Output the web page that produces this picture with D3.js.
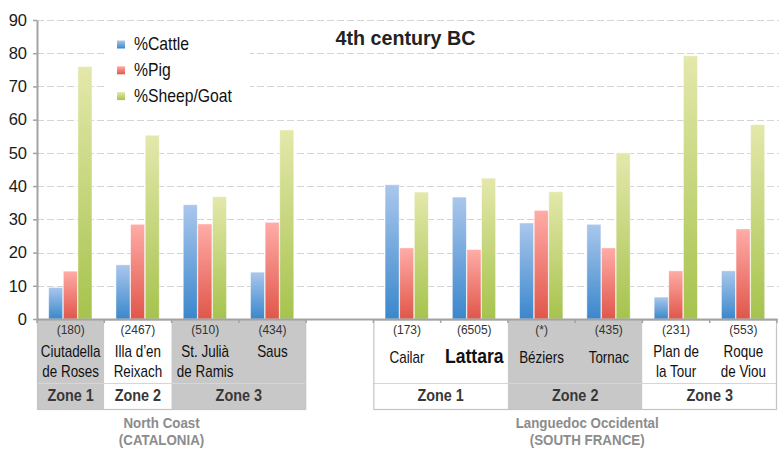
<!DOCTYPE html>
<html>
<head>
<meta charset="utf-8">
<script src="https://cdn.jsdelivr.net/npm/d3@7/dist/d3.min.js"></script>
<style>
  html, body { margin: 0; padding: 0; background: #fff; }
  svg { display: block; font-family: "Liberation Sans", Arial, Helvetica, sans-serif; }
</style>
</head>
<body>
<svg id="chart" width="779" height="450"></svg>
<script>
// ---- data ---------------------------------------------------------------
const title = "4th century BC";
const series = ["%Cattle", "%Pig", "%Sheep/Goat"];
const sites = ["Ciutadella de Roses", "Illa d’en Reixach", "St. Julià de Ramis", "Saus",
               "Cailar", "Lattara", "Béziers", "Tornac", "Plan de la Tour", "Roque de Viou"];
const siteLines = [["Ciutadella", "de Roses"], ["Illa d’en", "Reixach"], ["St. Julià", "de Ramis"], ["Saus"],
                   ["Cailar"], ["Lattara"], ["Béziers"], ["Tornac"], ["Plan de", "la Tour"], ["Roque", "de Viou"]];
const sampleSizes = ["(180)", "(2467)", "(510)", "(434)", "(173)", "(6505)", "(*)", "(435)", "(231)", "(553)"];
const cattle    = [9.5, 16.3, 34.4, 14.1, 40.4, 36.7, 28.9, 28.5, 6.6, 14.5];
const pig       = [14.4, 28.5, 28.6, 29.1, 21.4, 20.9, 32.7, 21.4, 14.5, 27.1];
const sheepGoat = [76.0, 55.3, 36.8, 56.9, 38.2, 42.4, 38.3, 50.0, 79.2, 58.5];
const yTicks = [0, 10, 20, 30, 40, 50, 60, 70, 80, 90];

const regionNames = ["North Coast", "Languedoc Occidental"];
const regionSubs  = ["(CATALONIA)", "(SOUTH FRANCE)"];
const regionSites = [sites.slice(0, 4), sites.slice(4)];
const zoneLabels  = ["Zone 1", "Zone 2", "Zone 3", "Zone 1", "Zone 2", "Zone 3"];
const zoneFirst   = ["Ciutadella de Roses", "Illa d’en Reixach", "St. Julià de Ramis", "Cailar", "Béziers", "Plan de la Tour"];
const zoneLast    = ["Ciutadella de Roses", "Illa d’en Reixach", "Saus", "Lattara", "Tornac", "Roque de Viou"];

// ---- styling ------------------------------------------------------------
const colors = {
  "%Cattle":     ["#aac7ec", "#3a87cc"],
  "%Pig":        ["#ffaca7", "#e0564a"],
  "%Sheep/Goat": ["#e4e8ab", "#a6c34d"]
};
const zoneShaded = [true, false, true, false, true, false];
const boldSites = ["Lattara"];

const svg = d3.select("#chart");
const W = 779, H = 450;
svg.append("rect").attr("width", W).attr("height", H).attr("fill", "#fff");

const defs = svg.append("defs");
series.forEach((s, i) => {
  const g = defs.append("linearGradient").attr("id", "grad" + i)
    .attr("x1", 0).attr("y1", 0).attr("x2", 0).attr("y2", 1);
  g.append("stop").attr("offset", "0%").attr("stop-color", colors[s][0]);
  g.append("stop").attr("offset", "100%").attr("stop-color", colors[s][1]);
});

// ---- scales -------------------------------------------------------------
const plotLeft = 37, plotRight = 777, plotTop = 20, plotBottom = 319;
const slots = [...regionSites[0], "gap", ...regionSites[1]];
const x = d3.scaleBand().domain(slots).range([plotLeft, plotRight]).paddingInner(0).paddingOuter(0);
const xs = d3.scaleBand().domain(series).range([0, x.bandwidth()]).paddingInner(0).paddingOuter(0.8);
const y = d3.scaleLinear().domain([0, 90]).range([plotBottom, plotTop]);

// text helper with optional horizontal condensing
function label(parent, tx, ty, txt, opt) {
  const o = Object.assign({size: 16, weight: "normal", fill: "#111", sx: 1, anchor: "middle"}, opt || {});
  return parent.append("text")
    .attr("transform", `translate(${tx},${ty}) scale(${o.sx},1)`)
    .attr("text-anchor", o.anchor)
    .attr("font-size", o.size)
    .attr("font-weight", o.weight)
    .attr("fill", o.fill)
    .text(txt);
}

// ---- gridlines ----------------------------------------------------------
svg.append("g").selectAll("line").data(yTicks.filter(d => d > 0)).join("line")
  .attr("x1", plotLeft).attr("x2", W)
  .attr("y1", d => Math.round(y(d)) + 0.5).attr("y2", d => Math.round(y(d)) + 0.5)
  .attr("stroke", "#d4d4d4").attr("stroke-width", 1).attr("stroke-dasharray", "7,3");

// ---- bars ---------------------------------------------------------------
const values = {"%Cattle": cattle, "%Pig": pig, "%Sheep/Goat": sheepGoat};
const barData = [];
sites.forEach((site, i) => series.forEach((s, k) => barData.push({site, s, k, v: values[s][i]})));
svg.append("g").selectAll("rect").data(barData).join("rect")
  .attr("x", d => x(d.site) + xs(d.s))
  .attr("width", xs.bandwidth() - 0.6)
  .attr("y", d => y(d.v))
  .attr("height", d => y(0) - y(d.v))
  .attr("fill", d => `url(#grad${d.k})`)
  .attr("stroke", "rgba(255,255,255,0.55)").attr("stroke-width", 0.8);

// ---- legend -------------------------------------------------------------
svg.append("rect").attr("x", 107).attr("y", 26).attr("width", 143).attr("height", 84).attr("fill", "#fff");
const legend = svg.append("g");
series.forEach((s, i) => {
  const by = 50 + i * 25.8;
  legend.append("rect").attr("x", 117).attr("y", by - 9.5).attr("width", 8).attr("height", 8)
    .attr("fill", `url(#grad${i})`);
  label(legend, 134, by, s, {size: 17.5, sx: 0.9, anchor: "start", fill: "#111"});
});

// ---- title --------------------------------------------------------------
label(svg, 405.5, 45, title, {size: 20.5, weight: "bold", fill: "#222", sx: 0.96});

// ---- y axis -------------------------------------------------------------
const yAxis = svg.append("g").attr("transform", `translate(${plotLeft},0)`)
  .call(d3.axisLeft(y).tickValues(yTicks).tickSize(4).tickSizeOuter(0).tickPadding(6));
yAxis.select(".domain").attr("stroke", "#a3a3a3").attr("stroke-width", 2);
yAxis.selectAll(".tick line").attr("stroke", "#a3a3a3").attr("stroke-width", 1.5);
yAxis.selectAll(".tick text").attr("font-size", 16.5).attr("fill", "#1a1a1a")
  .attr("font-family", "Liberation Sans, Arial, sans-serif");

// ---- category table -----------------------------------------------------
const tTop = plotBottom + 1, tMid = 383.5, tBot = 409.5;
const table = svg.append("g");
// zone cells
zoneLabels.forEach((z, i) => {
  const x0 = x(zoneFirst[i]), x1 = x(zoneLast[i]) + x.bandwidth();
  table.append("rect").attr("x", x0).attr("y", tTop).attr("width", x1 - x0).attr("height", tBot - tTop)
    .attr("fill", zoneShaded[i] ? "#c8c8c8" : "#fff");
  label(table, (x0 + x1) / 2, 400.5, z, {size: 16, weight: "bold", fill: "#383838", sx: 0.9});
});
// row divider + outline per region
regionSites.forEach((list, r) => {
  const x0 = x(list[0]), x1 = x(list[list.length - 1]) + x.bandwidth();
  table.append("line").attr("x1", x0).attr("x2", x1).attr("y1", tMid).attr("y2", tMid)
    .attr("stroke", "#d6d6d6").attr("stroke-width", 1.2);
  table.append("rect").attr("x", x0 + 0.5).attr("y", tTop).attr("width", x1 - x0 - 1).attr("height", tBot - tTop)
    .attr("fill", "none").attr("stroke", "#c4c4c4").attr("stroke-width", 1.2);
  const cx = r === 0 ? (x0 + x1) / 2 - 10 : (x0 + x1) / 2 + 12;
  label(table, cx, 427.5, regionNames[r], {size: 15, weight: "bold", fill: "#8c8c8c", sx: 0.89});
  label(table, cx, 444.5, regionSubs[r], {size: 15, weight: "bold", fill: "#8c8c8c", sx: 0.89});
});
// sample sizes and site names
sites.forEach((site, i) => {
  const cx = x(site) + x.bandwidth() / 2;
  label(table, cx, 334, sampleSizes[i], {size: 12, fill: "#333"});
  const lines = siteLines[i];
  const right = i >= 4;
  if (boldSites.includes(site)) {
    label(table, cx, 362.5, lines[0], {size: 21, weight: "bold", fill: "#111", sx: 0.84});
  } else if (lines.length === 1) {
    label(table, cx, right ? 363.3 : 357, lines[0], {size: 16, fill: "#111", sx: 0.84});
  } else {
    label(table, cx, 357, lines[0], {size: 16, fill: "#111", sx: 0.84});
    label(table, cx, 376.5, lines[1], {size: 16, fill: "#111", sx: 0.84});
  }
});

// ---- x axis line with boundary ticks ------------------------------------
const xAxis = svg.append("g").attr("transform", `translate(0,${plotBottom})`)
  .call(d3.axisBottom(x).tickSize(0).tickFormat(""));
xAxis.select(".domain").attr("stroke", "#a3a3a3").attr("stroke-width", 2);
xAxis.selectAll(".tick").remove();
const bounds = slots.map(s => x(s)).concat([x(slots[slots.length - 1]) + x.bandwidth()]);
xAxis.selectAll("line.bound").data(bounds).join("line").attr("class", "bound")
  .attr("x1", d => d).attr("x2", d => d).attr("y1", 0).attr("y2", 4)
  .attr("stroke", "#a3a3a3").attr("stroke-width", 1.5);
</script>
</body>
</html>
